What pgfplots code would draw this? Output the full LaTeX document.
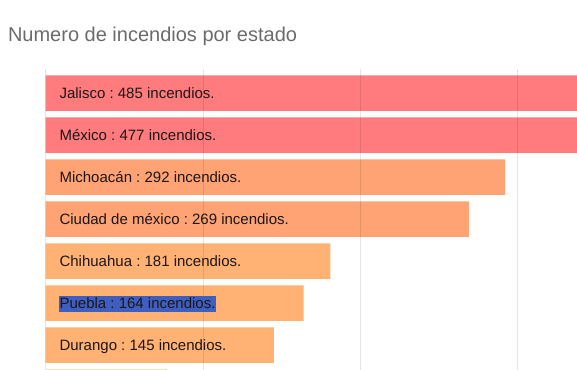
\documentclass[border=0pt]{standalone}
\usepackage{fontspec}
\setmainfont{Liberation Sans}
\usepackage{pgfplots}
\pgfplotsset{compat=1.18}
\definecolor{redbar}{HTML}{FF7B7E}
\definecolor{orbar}{HTML}{FFA274}
\definecolor{lorbar}{HTML}{FFB274}
\definecolor{pale}{HTML}{FFE2B4}
\definecolor{titlegray}{HTML}{6B6B6B}
\definecolor{selblue}{HTML}{3F5FC0}
\definecolor{labeltext}{HTML}{1C1616}
\setlength{\fboxsep}{0.6pt}
\frenchspacing
\begin{document}
\begin{tikzpicture}
\begin{axis}[
  at={(34.275pt,225.525pt)}, anchor=north west,
  width=398.475pt, height=225.525pt, scale only axis,
  xmin=0, xmax=337.7, ymin=-0.569, ymax=6.590, y dir=reverse,
  axis line style={draw=none},
  xtick={0,100,200,300}, xmajorticks=false, ytick=\empty,
  major tick length=0pt,
  xmajorgrids, grid style={black, opacity=0.1, line width=0.75pt},
  axis on top,
  xbar, bar width=26.6pt, bar shift=0pt,
]
\addplot[draw=none, fill=redbar] coordinates {(485,0) (477,1)};
\addplot[draw=none, fill=orbar] coordinates {(292,2) (269,3)};
\addplot[draw=none, fill=lorbar] coordinates {(181,4) (164,5) (145,6)};
\addplot[draw=none, fill=pale] coordinates {(77,7)};
\addplot[draw=none, fill=none, nodes near coords, point meta=explicit symbolic,
  every node near coord/.style={anchor=base west, xshift=10.2pt, yshift=-4pt, inner sep=0pt,
    text=labeltext, font=\fontsize{11.25}{13}\selectfont\frenchspacing}]
  coordinates {
  (0,0) [Jalisco : 485 incendios.]
  (0,1) [México : 477 incendios.]
  (0,2) [Michoacán : 292 incendios.]
  (0,3) [Ciudad de méxico : 269 incendios.]
  (0,4) [Chihuahua : 181 incendios.]
  (0,5) [\kern-0.6pt\colorbox{selblue}{\rule[-1.8pt]{0pt}{10.6pt}Puebla : 164 incendios.}]
  (0,6) [Durango : 145 incendios.]
  };
\end{axis}
\node[anchor=base west, text=titlegray, font=\fontsize{15}{18}\selectfont, inner sep=0pt] at (5.8pt,246pt) {Numero de incendios por estado};
\pgfresetboundingbox
\path[use as bounding box] (0,0) rectangle (432.75pt,277.5pt);
\end{tikzpicture}
\end{document}
